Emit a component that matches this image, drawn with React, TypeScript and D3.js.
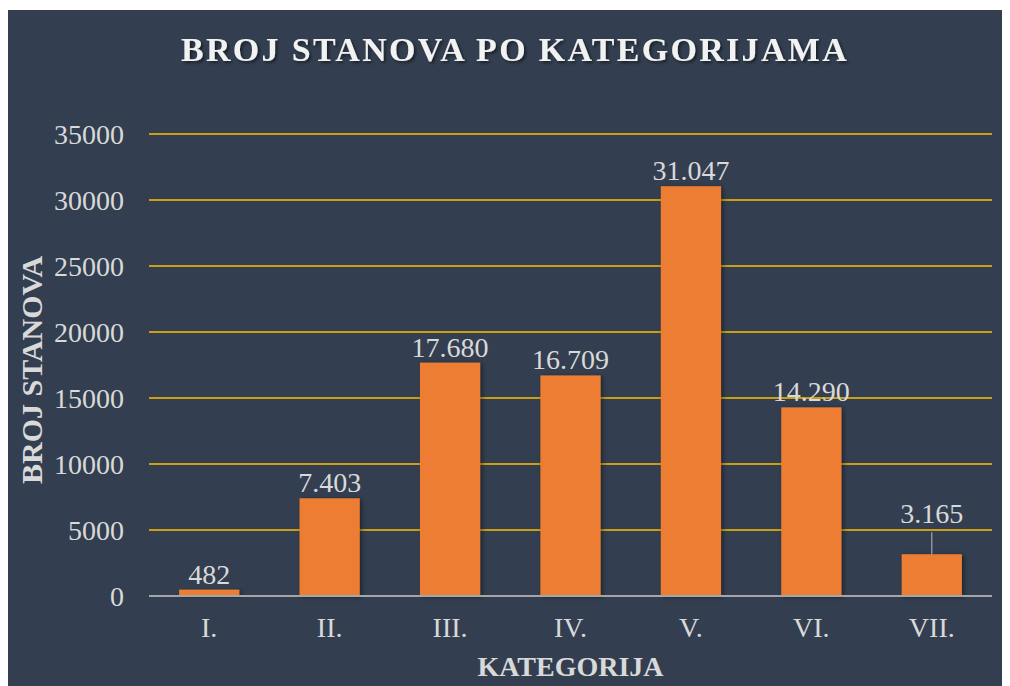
import React from "react";
import * as d3 from "d3";

const categories = ["I.", "II.", "III.", "IV.", "V.", "VI.", "VII."];
const values = [482, 7403, 17680, 16709, 31047, 14290, 3165];
const labels = ["482", "7.403", "17.680", "16.709", "31.047", "14.290", "3.165"];
const yTicks = [0, 5000, 10000, 15000, 20000, 25000, 30000, 35000];

export default function App() {
  const W = 1000;
  const H = 678;
  const left = 141, right = 984, top = 126, bottom = 588;
  const x = d3.scaleBand<string>().domain(categories).range([left, right]).paddingInner(0.5).paddingOuter(0.25);
  const y = d3.scaleLinear().domain([0, 35000]).range([bottom, top]);
  const font = "'Liberation Serif', 'Times New Roman', serif";
  const txt = "#D9D9D9";
  return (
    <svg width={W} height={H} style={{ display: "block" }}>
      <defs>
        <filter id="sh" x="-20%" y="-20%" width="150%" height="140%">
          <feDropShadow dx="2" dy="1" stdDeviation="2.5" floodColor="#000" floodOpacity="0.45" />
        </filter>
        <filter id="tsh" x="-10%" y="-30%" width="120%" height="170%">
          <feDropShadow dx="2" dy="2" stdDeviation="1.5" floodColor="#000" floodOpacity="0.5" />
        </filter>
      </defs>
      <rect x={0} y={2} width={W} height={H - 2} fill="#333F50" />
      <text x={507} y={53} textAnchor="middle" fill="#F2F2F2" fontFamily={font} fontWeight="bold" fontSize={34} letterSpacing={2.3} filter="url(#tsh)">
        BROJ STANOVA PO KATEGORIJAMA
      </text>
      {yTicks.map((t) => (
        <g key={t}>
          {t > 0 && <line x1={left} x2={right} y1={y(t)} y2={y(t)} stroke="#FFC000" strokeWidth={1.5} />}
          <text x={116} y={y(t) + 9.5} textAnchor="end" fill={txt} fontFamily={font} fontSize={28}>
            {t}
          </text>
        </g>
      ))}
      {categories.map((c, i) => {
        const bx = x(c)!;
        const bw = x.bandwidth();
        const by = y(values[i]);
        const cx = bx + bw / 2;
        const isLast = i === categories.length - 1;
        const ly = isLast ? by - 31 : by - 6;
        return (
          <g key={c}>
            <rect x={bx} y={by} width={bw} height={bottom - by} fill="#ED7D31" filter="url(#sh)" />
            {isLast && <line x1={cx} x2={cx} y1={by - 22} y2={by} stroke="#A6A6A6" strokeWidth={1.2} />}
            <text x={cx} y={ly} textAnchor="middle" fill={txt} fontFamily={font} fontSize={28}>
              {labels[i]}
            </text>
            <text x={cx} y={bottom + 41} textAnchor="middle" fill={txt} fontFamily={font} fontSize={28}>
              {c}
            </text>
          </g>
        );
      })}
      <line x1={left} x2={right} y1={bottom} y2={bottom} stroke="#A6A6A6" strokeWidth={2.2} />
      <text x={(left + right) / 2} y={668} textAnchor="middle" fill={txt} fontFamily={font} fontWeight="bold" fontSize={28}>
        KATEGORIJA
      </text>
      <text transform={`translate(34, 362) rotate(-90)`} textAnchor="middle" fill={txt} fontFamily={font} fontWeight="bold" fontSize={30}>
        BROJ STANOVA
      </text>
    </svg>
  );
}
